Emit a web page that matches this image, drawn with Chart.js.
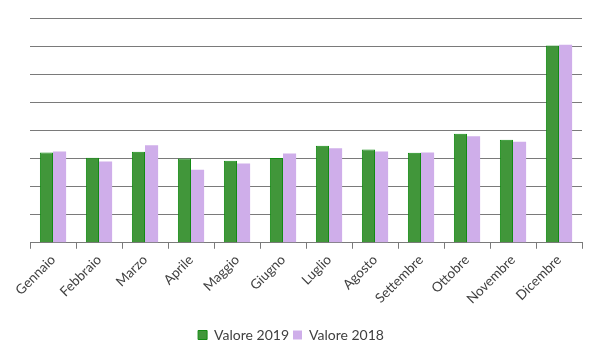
<!DOCTYPE html>
<html>
<head>
<meta charset="utf-8">
<script src="https://cdn.jsdelivr.net/npm/chart.js@4/dist/chart.umd.min.js"></script>
<style>
    html, body { margin: 0; padding: 0; background: #fff; }
    #wrap { width: 600px; height: 360px; position: relative; }
</style>
</head>
<body>
<div id="wrap"><canvas id="chart"></canvas></div>
<script>
// Data (units = one gridline step)
const months = ['Gennaio', 'Febbraio', 'Marzo', 'Aprile', 'Maggio', 'Giugno',
    'Luglio', 'Agosto', 'Settembre', 'Ottobre', 'Novembre', 'Dicembre'];
const valori2019 = [3.21, 3.03, 3.24, 3.0, 2.92, 3.02, 3.45, 3.32, 3.2, 3.88, 3.67, 7.02];
const valori2018 = [3.25, 2.89, 3.47, 2.6, 2.82, 3.18, 3.36, 3.25, 3.21, 3.79, 3.6, 7.05];

const ctx = document.getElementById('chart').getContext('2d');
new Chart(ctx, {
    type: 'bar',
    data: {
        labels: months,
        datasets: [
            {
                label: 'Valore 2019',
                data: valori2019,
                backgroundColor: '#41963a',
                borderColor: '#138a13',
                borderWidth: 1
            },
            {
                label: 'Valore 2018',
                data: valori2018,
                backgroundColor: '#cfaeea',
                borderColor: '#cfaeea',
                borderWidth: 0
            }
        ]
    },
    options: {
        responsive: true,
        maintainAspectRatio: false,
        animation: false,
        layout: { padding: { top: 18, right: 18, bottom: 8, left: 0 } },
        datasets: { bar: { categoryPercentage: 0.57, barPercentage: 1 } },
        plugins: {
            tooltip: { enabled: false },
            legend: {
                position: 'bottom',
                labels: {
                    boxWidth: 9, boxHeight: 9, padding: 4,
                    color: '#404040',
                    font: { family: 'Lato, "Open Sans", sans-serif', size: 14 }
                }
            }
        },
        scales: {
            x: {
                grid: { drawOnChartArea: false, drawTicks: true, tickLength: 6, color: '#7a7a7a' },
                border: { color: '#7a7a7a', width: 1 },
                ticks: {
                    minRotation: 45, maxRotation: 45,
                    color: '#404040',
                    font: { family: 'Lato, "Open Sans", sans-serif', size: 13.5 }
                },
                afterFit(scale) { scale.height += 14; }
            },
            y: {
                min: 0, max: 8,
                ticks: { display: false, stepSize: 1 },
                grid: { color: '#7a7a7a', drawTicks: false },
                border: { display: false },
                afterFit(scale) { scale.width = 30; }
            }
        }
    }
});
</script>
</body>
</html>
